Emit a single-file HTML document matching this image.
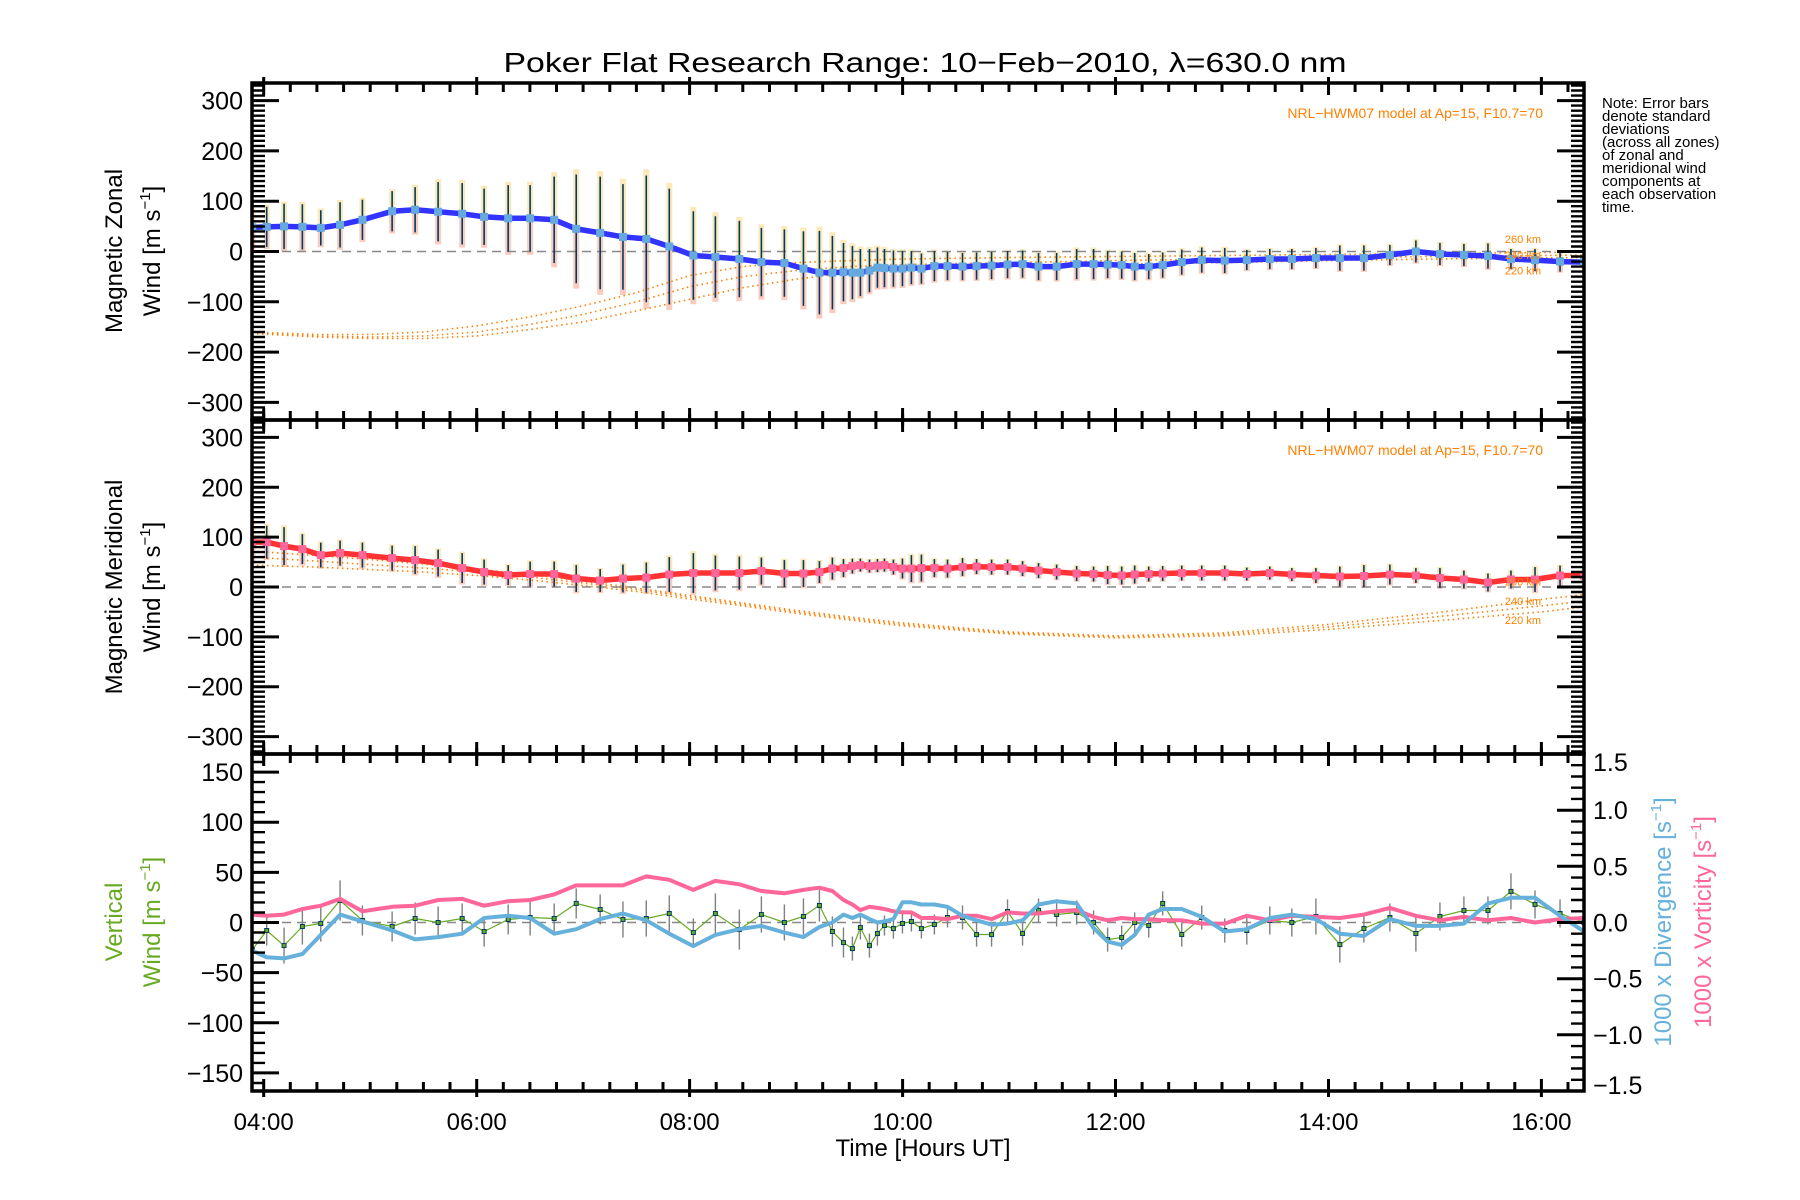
<!DOCTYPE html>
<html><head><meta charset="utf-8"><title>Poker Flat winds</title>
<style>html,body{margin:0;padding:0;background:#fff}svg{display:block}text{font-family:"Liberation Sans",sans-serif}</style>
</head><body>
<svg id="chart" xmlns="http://www.w3.org/2000/svg" width="1800" height="1200" viewBox="0 0 1800 1200">
<rect x="0" y="0" width="1800" height="1200" fill="#fff"/>
<text x="925" y="72" text-anchor="middle" font-size="28" textLength="843" lengthAdjust="spacingAndGlyphs">Poker Flat Research Range: 10−Feb−2010, λ=630.0 nm</text>
<g font-size="15" fill="#000">
<text x="1602" y="108">Note: Error bars</text>
<text x="1602" y="121">denote standard</text>
<text x="1602" y="134">deviations</text>
<text x="1602" y="147">(across all zones)</text>
<text x="1602" y="160">of zonal and</text>
<text x="1602" y="173">meridional wind</text>
<text x="1602" y="186">components at</text>
<text x="1602" y="199">each observation</text>
<text x="1602" y="212">time.</text>
</g>
<text x="923" y="1156" text-anchor="middle" font-size="24">Time [Hours UT]</text>
<g transform="translate(122,251) rotate(-90)"><text x="0" y="0" text-anchor="middle" font-size="24">Magnetic Zonal</text><text x="0" y="38" text-anchor="middle" font-size="24">Wind [m s<tspan font-size="15" dy="-10">−1</tspan><tspan dy="10">]</tspan></text></g>
<g transform="translate(122,587) rotate(-90)"><text x="0" y="0" text-anchor="middle" font-size="24">Magnetic Meridional</text><text x="0" y="38" text-anchor="middle" font-size="24">Wind [m s<tspan font-size="15" dy="-10">−1</tspan><tspan dy="10">]</tspan></text></g>
<g transform="translate(122,922) rotate(-90)" fill="#66aa22"><text x="0" y="0" text-anchor="middle" font-size="24">Vertical</text><text x="0" y="38" text-anchor="middle" font-size="24">Wind [m s<tspan font-size="15" dy="-10">−1</tspan><tspan dy="10">]</tspan></text></g>
<g transform="translate(1671,922) rotate(-90)" fill="#66b0dc"><text x="0" y="0" text-anchor="middle" font-size="24">1000 x Divergence [s<tspan font-size="15" dy="-10">−1</tspan><tspan dy="10">]</tspan></text></g>
<g transform="translate(1711,922) rotate(-90)" fill="#ff6699"><text x="0" y="0" text-anchor="middle" font-size="24">1000 x Vorticity [s<tspan font-size="15" dy="-10">−1</tspan><tspan dy="10">]</tspan></text></g>
</svg>
<script>
// ---- data ----
const times = [3.893,4.028,4.191,4.363,4.536,4.717,4.927,5.206,5.422,5.638,5.864,6.070,6.296,6.502,6.728,6.935,7.160,7.374,7.593,7.809,8.035,8.242,8.467,8.674,8.890,9.069,9.219,9.341,9.445,9.529,9.604,9.689,9.764,9.830,9.914,9.999,10.083,10.177,10.299,10.422,10.563,10.695,10.836,10.986,11.127,11.277,11.447,11.635,11.794,11.926,12.058,12.180,12.312,12.443,12.622,12.810,13.026,13.233,13.449,13.656,13.882,14.107,14.333,14.577,14.821,15.047,15.272,15.498,15.714,15.940,16.175,16.400];
const zonal = [48,49,50,49,47,53,63,80,83,79,75,69,66,66,63,45,37,29,25,10,-8,-11,-15,-21,-23,-34,-42,-42,-41,-42,-42,-38,-32,-33,-34,-34,-32,-34,-29,-29,-30,-29,-28,-26,-25,-30,-30,-25,-25,-26,-27,-30,-30,-27,-21,-17,-18,-17,-15,-15,-13,-13,-13,-7,0,-5,-7,-9,-15,-17,-20,-21];
const zonalErr = [40,40,45,45,35,45,40,40,45,59,61,56,66,66,86,108,112,105,126,115,88,81,76,68,67,74,83,73,58,53,47,43,40,38,36,35,33,30,30,28,27,27,27,27,27,27,27,30,30,27,27,27,25,25,25,25,25,20,20,20,20,25,25,20,22,22,22,25,20,22,20,12];
const merid = [90,90,82,76,64,68,64,58,54,48,38,30,24,26,26,17,13,17,19,25,28,28,28,32,27,27,30,37,38,42,44,42,43,44,40,37,37,38,38,37,40,41,40,40,37,33,30,27,26,24,23,25,26,27,28,28,28,26,28,25,23,21,22,25,23,18,15,9,15,15,23,23];
const meridErr = [40,33,38,30,25,25,25,25,28,27,30,25,20,25,25,27,23,28,30,35,40,35,33,27,27,27,22,22,18,15,13,13,13,13,15,20,27,27,18,18,18,15,15,15,15,15,15,15,15,18,18,18,15,15,15,15,15,13,13,13,15,20,22,20,15,20,18,18,18,25,20,12];
const vertical = [-27,-8,-23,-4,-1,22,2,-4,4,0,4,-9,3,5,4,19,13,3,4,9,-10,9,-7,8,0,6,17,-9,-20,-26,-5,-23,-11,-3,-6,-1,1,-6,-2,5,5,-12,-12,11,-11,12,8,10,0,-17,-15,0,-3,19,-12,5,-8,-8,2,0,6,-22,-6,5,-11,6,12,12,31,18,9,0];
const verticalErr = [15,15,18,18,18,20,15,15,16,16,15,15,15,18,15,15,15,18,18,18,14,20,20,18,18,18,16,15,15,12,12,12,12,10,10,10,10,10,10,10,12,12,12,12,12,12,12,12,12,12,12,10,12,12,12,12,12,14,14,14,18,18,14,14,18,14,14,14,18,14,14,8];
const divergence = [-0.25,-0.31,-0.32,-0.28,-0.11,0.07,0.01,-0.07,-0.15,-0.13,-0.10,0.04,0.06,0.04,-0.10,-0.06,0.03,0.08,0.02,-0.10,-0.21,-0.11,-0.06,-0.03,-0.09,-0.13,-0.04,0,0.07,0.04,0.07,0.03,0,0.01,0.03,0.18,0.18,0.16,0.16,0.14,0.06,0.02,-0.02,-0.01,0.02,0.16,0.19,0.17,-0.05,-0.17,-0.20,-0.11,0.07,0.12,0.12,0.05,-0.08,-0.06,0.04,0.07,0.03,-0.10,-0.12,0.03,-0.03,-0.03,-0.01,0.17,0.22,0.22,0.06,-0.08];
const vorticity = [0.07,0.06,0.07,0.12,0.15,0.21,0.10,0.14,0.15,0.20,0.21,0.15,0.19,0.20,0.25,0.33,0.33,0.33,0.41,0.38,0.29,0.37,0.34,0.28,0.26,0.29,0.31,0.28,0.20,0.16,0.11,0.14,0.13,0.12,0.10,0.09,0.09,0.04,0.04,0.03,0.06,0.06,0.03,0.09,0.08,0.08,0.10,0.11,0.05,0.02,0.04,0.03,0.03,0.02,0.02,-0.01,-0.01,0.06,0.02,0.06,0.05,0.04,0.07,0.13,0.06,0.02,0.05,0.02,0.04,0,0.03,0.04];
const modelTimes = [3.89,4.5,5,5.5,6,6.5,7,7.5,8,8.5,9,9.5,10,11,12,13,14,15,16,16.4];
const zonal260 = [-160,-165,-165,-160,-148,-130,-108,-82,-48,-30,-22,-18,-15,-12,-10,-8,-6,-4,-2,-1];
const zonal240 = [-162,-168,-170,-168,-160,-145,-125,-100,-70,-50,-38,-30,-26,-22,-18,-15,-12,-10,-8,-7];
const zonal220 = [-163,-170,-173,-173,-168,-155,-140,-118,-95,-72,-55,-42,-35,-30,-25,-22,-18,-15,-13,-12];
const merid260 = [72,63,55,46,36,25,12,-2,-17,-32,-47,-60,-72,-90,-98,-92,-75,-52,-25,-15];
const merid240 = [60,52,45,38,30,20,8,-5,-20,-35,-50,-63,-75,-92,-100,-95,-80,-60,-38,-28];
const merid220 = [44,40,35,30,23,14,3,-9,-24,-38,-53,-66,-78,-94,-102,-98,-85,-68,-50,-40];
const xTickHours = [4,6,8,10,12,14,16];
const xTickLabels = ["04:00","06:00","08:00","10:00","12:00","14:00","16:00"];
const windTicks = [-300,-200,-100,0,100,200,300];
const vertTicks = [-150,-100,-50,0,50,100,150];
const rightTicks = [-1.5,-1.0,-0.5,0.0,0.5,1.0,1.5];
const rightTickLabels = ["−1.5","−1.0","−0.5","0.0","0.5","1.0","1.5"];

// ---- scales ----
const svg = document.getElementById('chart');
const NS = 'http://www.w3.org/2000/svg';
const L = 252, R = 1584, T0 = 3.89, T1 = 16.40;
function X(t){ return L + (t - T0) / (T1 - T0) * (R - L); }
const panels = [
  {top:83, bot:420, min:-335, max:335},
  {top:420, bot:754, min:-335, max:335},
  {top:754, bot:1091, min:-168, max:168, rmin:-1.5, rmax:1.5}
];
function Y(p, v){ return p.bot - (v - p.min) / (p.max - p.min) * (p.bot - p.top); }
function YR(p, v){ return p.bot - (v - p.rmin) / (p.rmax - p.rmin) * (p.bot - p.top); }
function mk(tag, attrs, parent){
  const e = document.createElementNS(NS, tag);
  for (const k in attrs) e.setAttribute(k, attrs[k]);
  (parent || svg).appendChild(e);
  return e;
}
const defs = mk('defs', {});
panels.forEach((p, i) => {
  const cp = mk('clipPath', {id: 'clip' + i}, defs);
  mk('rect', {x: L, y: p.top, width: R - L, height: p.bot - p.top}, cp);
});
function pathD(ts, vs, yf){
  return ts.map((t, i) => (i ? 'L' : 'M') + X(t).toFixed(1) + ',' + yf(vs[i]).toFixed(1)).join('');
}

// ---- wind panels (zonal / meridional) ----
function windPanel(pi, vals, errs, m260, m240, m220, lineColor, markColor, nameBase){
  const p = panels[pi];
  const g = mk('g', {'clip-path': 'url(#clip' + pi + ')'});
  
  
  const yf = v => Y(p, v);
  times.forEach((t, i) => {
    const x = X(t);
    const a = mk('rect', {x: x - 3, y: yf(vals[i] + errs[i] * 1.1), width: 6, height: yf(vals[i]) - yf(vals[i] + errs[i] * 1.1), fill: '#fbe3a8', opacity: 0.8}, g);
    
    
    const b = mk('rect', {x: x - 3, y: yf(vals[i]), width: 6, height: yf(vals[i] - errs[i] * 1.1) - yf(vals[i]), fill: '#f9bfae', opacity: 0.8}, g);
    
    
  });
  [[m260, '260'], [m240, '240'], [m220, '220']].forEach(([arr, alt]) => {
    const c = mk('path', {d: pathD(modelTimes, arr, yf), fill: 'none', stroke: '#ff8000', 'stroke-width': 1.6, 'stroke-dasharray': '1.5,3.5'}, g);
    
    
  });
  const z = mk('line', {x1: L, x2: R, y1: yf(0), y2: yf(0), stroke: '#888', 'stroke-width': 1.5, 'stroke-dasharray': '9,6'}, g);
  
  
  times.forEach((t, i) => {
    const e = mk('line', {x1: X(t), x2: X(t), y1: yf(vals[i] + errs[i]), y2: yf(vals[i] - errs[i]), stroke: '#003a66', 'stroke-width': 1.6}, g);
    
    
  });
  const ln = mk('path', {d: pathD(times, vals, yf), fill: 'none', stroke: lineColor, 'stroke-width': 5.5, 'stroke-linejoin': 'round'}, g);
  
  
  times.forEach((t, i) => {
    const mkr = mk('rect', {x: X(t) - 4, y: yf(vals[i]) - 4, width: 8, height: 8, fill: markColor}, g);
    
    
  });
  const nt = mk('text', {x: 1543, y: p.top + 35, 'text-anchor': 'end', 'font-size': 14, fill: '#ff8000'});
  
  
  nt.textContent = 'NRL−HWM07 model at Ap=15, F10.7=70';
  const last = modelTimes.length - 1;
  [[m260, '260 km', -6], [m240, '240 km', 0], [m220, '220 km', 6]].forEach(([arr, lab, off], k) => {
    const ty = yf(arr[last]) + off * 2.2;
    const tl = mk('text', {x: 1541, y: ty + 4, 'text-anchor': 'end', 'font-size': 11, fill: '#ff8000'});
    
    
    tl.textContent = lab;
  });
}
windPanel(0, zonal, zonalErr, zonal260, zonal240, zonal220, '#3333ff', '#66aadd', 'zonal');
windPanel(1, merid, meridErr, merid260, merid240, merid220, '#ff3333', '#ff6699', 'meridional');

// ---- vertical panel ----
(function(){
  const p = panels[2];
  const g = mk('g', {'clip-path': 'url(#clip2)'});
  
  
  const yf = v => Y(p, v), yr = v => YR(p, v);
  const z = mk('line', {x1: L, x2: R, y1: yf(0), y2: yf(0), stroke: '#888', 'stroke-width': 1.5, 'stroke-dasharray': '9,6'}, g);
  
  
  times.forEach((t, i) => {
    const e = mk('line', {x1: X(t), x2: X(t), y1: yf(vertical[i] + verticalErr[i]), y2: yf(vertical[i] - verticalErr[i]), stroke: '#808080', 'stroke-width': 1.4}, g);
    
    
  });
  const vl = mk('path', {d: pathD(times, vertical, yf), fill: 'none', stroke: '#66aa22', 'stroke-width': 1.2}, g);
  
  
  times.forEach((t, i) => {
    const m = mk('rect', {x: X(t) - 2, y: yf(vertical[i]) - 2, width: 4, height: 4, fill: '#66aa22', stroke: '#003a66', 'stroke-width': 1}, g);
    
    
  });
  const vo = mk('path', {d: pathD(times, vorticity, yr), fill: 'none', stroke: '#ff6699', 'stroke-width': 4, 'stroke-linejoin': 'round'}, g);
  
  
  const dv = mk('path', {d: pathD(times, divergence, yr), fill: 'none', stroke: '#66b0dc', 'stroke-width': 4, 'stroke-linejoin': 'round'}, g);
  
  
})();

// ---- axes, ticks, labels ----
panels.forEach((p, pi) => {
  const ax = mk('g', {stroke: '#000', fill: 'none'});
  
  
  const fr = mk('rect', {x: L, y: p.top, width: R - L, height: p.bot - p.top, 'stroke-width': 3.5}, ax);
  
  
  let d = '';
  // x ticks every 15 min
  for (let q = Math.ceil(T0 * 4); q <= Math.floor(T1 * 4); q++) {
    const h = q / 4, x = X(h).toFixed(1);
    const major = xTickHours.indexOf(h) >= 0;
    if (major) { d += 'M' + x + ',' + (p.top - 6) + 'V' + (p.top + 12) + 'M' + x + ',' + (p.bot + 6) + 'V' + (p.bot - 12); }
    else { d += 'M' + x + ',' + p.top + 'V' + (p.top + 9) + 'M' + x + ',' + p.bot + 'V' + (p.bot - 9); }
  }
  const xt = mk('path', {d: d, 'stroke-width': 3}, ax);
  
  
  // y ticks
  let dm = '', dn = '';
  const step = pi < 2 ? 10 : 10, majorStep = pi < 2 ? 100 : 50;
  for (let v = Math.ceil(p.min / step) * step; v <= p.max; v += step) {
    const y = Y(p, v).toFixed(1);
    if (v % majorStep === 0) { dm += 'M' + L + ',' + y + 'h27M' + R + ',' + y + (pi < 2 ? 'h-27' : ''); }
    else { dn += 'M' + L + ',' + y + 'h13' + (pi < 2 ? 'M' + R + ',' + y + 'h-13' : ''); }
  }
  if (pi === 2) {
    for (let k = -15; k <= 15; k++) {
      const y = YR(p, k / 10).toFixed(1);
      if (k % 5 === 0) dm += 'M' + R + ',' + y + 'h-27'; else dn += 'M' + R + ',' + y + 'h-13';
    }
  }
  const ym = mk('path', {d: dm, 'stroke-width': 3}, ax);
  
  
  const yn = mk('path', {d: dn, 'stroke-width': 2.4}, ax);
  
  
  const labs = pi < 2 ? windTicks : vertTicks;
  labs.forEach(v => {
    const t = mk('text', {x: 243, y: Y(p, v) + 9, 'text-anchor': 'end', 'font-size': 25, fill: '#000'});
    
    
    t.textContent = v < 0 ? '−' + Math.abs(v) : String(v);
  });
  if (pi === 2) {
    rightTicks.forEach((v, k) => {
      const t = mk('text', {x: 1593, y: YR(p, v) + 9 + (v === 1.5 ? 8 : v === -1.5 ? -6 : 0), 'font-size': 25, fill: '#000'});
      
      
      t.textContent = rightTickLabels[k];
    });
  }
});
xTickHours.forEach((h, k) => {
  const t = mk('text', {x: X(h), y: 1130, 'text-anchor': 'middle', 'font-size': 24, fill: '#000'});
  
  
  t.textContent = xTickLabels[k];
});
</script>
</body></html>
